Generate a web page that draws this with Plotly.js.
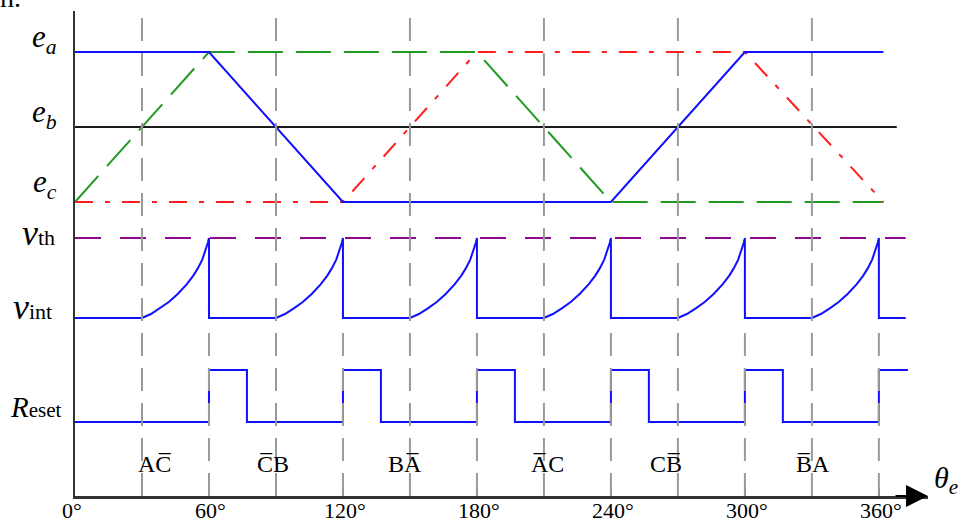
<!DOCTYPE html>
<html>
<head>
<meta charset="utf-8">
<script src="https://cdn.plot.ly/plotly-3.0.1.min.js"></script>
<style>
  html, body { margin: 0; padding: 0; background: #fff; }
  #chart { width: 959px; height: 522px; }
</style>
</head>
<body>
<div id="chart"></div>
<script>
// Trapezoidal back-EMF corners: electrical angle (deg) and normalised EMF
const phaseA_theta = [0, 60, 120, 240, 300, 362];
const phaseA_emf   = [1, 1, -1, -1, 1, 1];
const phaseB_theta = [0, 60, 180, 240, 362];
const phaseB_emf   = [-1, 1, 1, -1, -1];
const phaseC_theta = [0, 120, 180, 300, 362];
const phaseC_emf   = [-1, -1, 1, 1, -1];
const neutral_theta = [0, 368];
const neutral_emf   = [0, 0];

// Zero crossings of the floating phase and the commutation instants (deg)
const zeroCrossings = [30, 90, 150, 210, 270, 330];
const commutations  = [60, 120, 180, 240, 300, 360];

// Integrator output after a zero crossing: degrees elapsed, fraction of v_th
const rampDeg  = [0, 4, 8, 12, 16, 20, 23, 25, 27, 28.5, 29.5, 30];
const rampFrac = [0, 0.05, 0.12, 0.2, 0.3, 0.42, 0.53, 0.62, 0.73, 0.85, 0.94, 1.0];
const integratorEnd = 372;

// Threshold level
const threshold_theta = [0, 372];
const threshold_level = [1, 1];

// Integrator reset signal
const reset_theta = [0, 60, 77, 120, 137, 180, 197, 240, 257, 300, 317, 360, 373];
const reset_level = [0, 1, 0, 1, 0, 1, 0, 1, 0, 1, 0, 1, 1];

// Conducting phase pair in each sector (U+0305 = combining overline)
const sector_theta = [36, 88.5, 148, 211.5, 264.5, 330.5];
const sector_labels = ["AC\u0305", "C\u0305B", "BA\u0305", "A\u0305C", "CB\u0305", "B\u0305A"];

// Angle axis
const tick_vals   = [0, 60, 120, 180, 240, 300, 360];
const tick_labels = ["0°", "60°", "120°", "180°", "240°", "300°", "360°"];

// integrator waveform: flat, ramp after each zero crossing, drop at commutation
const int_theta = [0], int_level = [0];
zeroCrossings.forEach((z, k) => {
  rampDeg.forEach((d, i) => { int_theta.push(z + d); int_level.push(rampFrac[i]); });
  int_theta.push(commutations[k]); int_level.push(0);
});
int_theta.push(integratorEnd); int_level.push(0);

// ---- geometry ----
const W = 959, H = 522, M = { l: 75, r: 31, t: 11, b: 26 };
const plotH = H - M.t - M.b, plotW = W - M.l - M.r;
const pyToPaper = py => (H - M.b - py) / plotH;
const pxToPaper = px => (px - M.l) / plotW;
function axisRange(v0, py0, v1, py1) {
  const p0 = pyToPaper(py0), p1 = pyToPaper(py1);
  const k = (p1 - p0) / (v1 - v0);
  return [v0 - p0 / k, v0 + (1 - p0) / k];
}

const SERIF = "Liberation Serif, Times New Roman, serif";
const BLUE = "#1010ff", GREEN = "#1f9a1f", RED = "#ff1e1e", PURPLE = "#8e0a8e";

const traces = [
  { x: neutral_theta, y: neutral_emf, yaxis: "y", mode: "lines",
    line: { color: "#1a1a1a", width: 2 } },
  { x: phaseB_theta, y: phaseB_emf, yaxis: "y", mode: "lines",
    line: { color: GREEN, width: 2, dash: "35px,13px" } },
  { x: phaseC_theta, y: phaseC_emf, yaxis: "y", mode: "lines",
    line: { color: RED, width: 2, dash: "18px,12px,5px,12px" } },
  { x: phaseA_theta, y: phaseA_emf, yaxis: "y", mode: "lines",
    line: { color: BLUE, width: 2 } },
  { x: threshold_theta, y: threshold_level, yaxis: "y2", mode: "lines",
    line: { color: PURPLE, width: 2, dash: "26px,19px" } },
  { x: int_theta, y: int_level, yaxis: "y2", mode: "lines",
    line: { color: BLUE, width: 2 } },
  { x: reset_theta, y: reset_level, yaxis: "y3", mode: "lines",
    line: { color: BLUE, width: 2, shape: "hv" } }
];

const GRAY = { color: "#9a9a9a", width: 2, dash: "23px,12px" };
const shapes = [];
zeroCrossings.forEach(t => shapes.push({
  type: "line", xref: "x", yref: "paper", x0: t, x1: t, y0: 0, y1: 1,
  layer: "above", line: GRAY }));
commutations.forEach(t => shapes.push({
  type: "line", xref: "x", yref: "paper", x0: t, x1: t, y0: 0, y1: pyToPaper(326),
  layer: "above", line: GRAY }));

const annotations = [];
const sideLabel = (text, yref, y, size, xshift, yshift) => annotations.push({
  text, xref: "paper", x: 0, xanchor: "right", xshift,
  yref, y, yanchor: "middle", yshift, showarrow: false,
  font: { family: SERIF, size, color: "#000" } });

sideLabel("<i>e</i><sub><i>a</i></sub>", "y", 1, 31, -16, 13);
sideLabel("<i>e</i><sub><i>b</i></sub>", "y", 0, 31, -16, 13);
sideLabel("<i>e</i><sub><i>c</i></sub>", "y", -1, 31, -16, 18);
sideLabel("<i>v</i><span style='font-size:22px'>th</span>", "y2", 1, 36, -18, 5);
sideLabel("<i>v</i><span style='font-size:22px'>int</span>", "y2", 0, 36, -21, 11);
sideLabel("<i>R</i><span style='font-size:21px'>eset</span>", "y3", 0, 29, -11, 15);

sector_theta.forEach((t, i) => annotations.push({
  text: sector_labels[i], xref: "x", x: t, yref: "paper", y: pyToPaper(464),
  yanchor: "middle", showarrow: false,
  font: { family: SERIF, size: 24, color: "#000" } }));

// tick labels of the angle axis
tick_vals.forEach((t, i) => annotations.push({
  text: tick_labels[i], xref: "x", x: t, xshift: i === 0 ? -3 : 2,
  yref: "paper", y: pyToPaper(510.5), yanchor: "middle", showarrow: false,
  font: { family: SERIF, size: 22, color: "#000" } }));

// arrow head on the angle axis and its symbol
annotations.push({
  text: "", xref: "paper", x: 1, yref: "paper", y: 0,
  ax: -34, ay: 0, axref: "pixel", ayref: "pixel",
  showarrow: true, arrowhead: 2, arrowsize: 2, arrowwidth: 2.2,
  arrowcolor: "#000", standoff: 0 });
annotations.push({
  text: "<i>θ</i><sub><i>e</i></sub>", xref: "paper", x: 1, xanchor: "left", xshift: 4,
  yref: "paper", y: pyToPaper(480), yanchor: "middle", showarrow: false,
  font: { family: SERIF, size: 30, color: "#000" } });

// caption fragment at the upper-left corner
annotations.push({
  text: "n.", xref: "paper", x: pxToPaper(-2), xanchor: "left",
  yref: "paper", y: pyToPaper(15), yanchor: "bottom", showarrow: false,
  font: { family: SERIF, size: 28, color: "#000" } });

const layout = {
  width: W, height: H, margin: M,
  paper_bgcolor: "#fff", plot_bgcolor: "#fff",
  showlegend: false,
  font: { family: SERIF, color: "#000" },
  xaxis: {
    range: [0, 382], showgrid: false, zeroline: false,
    showline: true, linecolor: "#333", linewidth: 2.5,
    tickmode: "array", tickvals: tick_vals, ticktext: tick_labels,
    showticklabels: false,
    ticks: "inside", ticklen: 7, tickwidth: 2, tickcolor: "#333"
  },
  yaxis: {
    range: axisRange(-1, 202, 1, 52), showgrid: false, zeroline: false,
    showline: true, linecolor: "#333", linewidth: 2.5,
    ticks: "", showticklabels: false
  },
  yaxis2: { range: axisRange(0, 318, 1, 238), overlaying: "y", visible: false },
  yaxis3: { range: axisRange(0, 422, 1, 370), overlaying: "y", visible: false },
  shapes, annotations
};

Plotly.newPlot("chart", traces, layout, { staticPlot: true, displayModeBar: false });
</script>
</body>
</html>
